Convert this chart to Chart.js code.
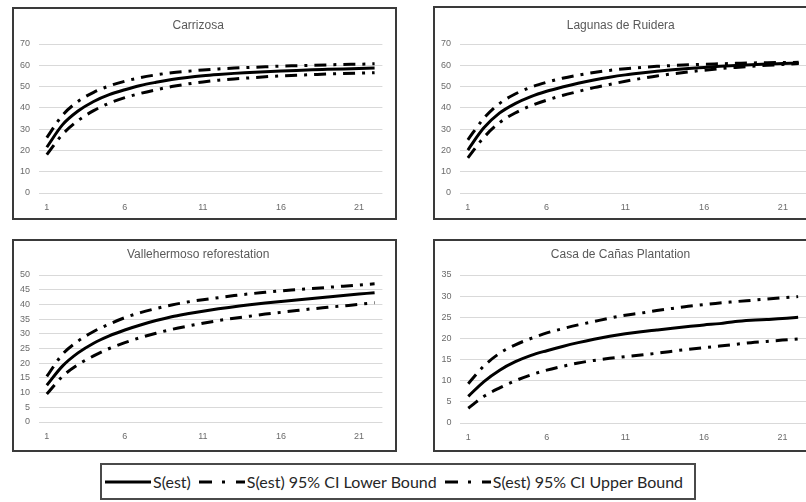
<!DOCTYPE html>
<html>
<head>
<meta charset="utf-8">
<script src="https://cdn.jsdelivr.net/npm/chart.js@4.4.1/dist/chart.umd.min.js"></script>
<style>
  html, body { margin: 0; padding: 0; background: #fff; }
  body { width: 806px; height: 502px; position: relative; overflow: hidden; }
  .panel { position: absolute; box-sizing: border-box; border: 2px solid #3a3a3a; background: #fff; }
  .panel canvas { display: block; }
  #legend {
    position: absolute; left: 100px; top: 463px; width: 596px; height: 37px;
    box-sizing: border-box; border: 2px solid #4a4a4a;
    display: flex; align-items: center; padding-left: 3px;
    font-family: Lato, "Noto Sans", sans-serif; font-size: 16px; color: #262626;
  }
  #legend .item { display: flex; align-items: center; margin-right: 8px; }
  #legend svg { margin-right: 2px; }
</style>
</head>
<body>
<div class="panel" id="p1" style="left:12px; top:7px; width:385px; height:213px;"><canvas id="c1" width="381" height="209"></canvas></div>
<div class="panel" id="p2" style="left:433px; top:6px; width:385px; height:214px;"><canvas id="c2" width="381" height="210"></canvas></div>
<div class="panel" id="p3" style="left:12px; top:239px; width:385px; height:213px;"><canvas id="c3" width="381" height="209"></canvas></div>
<div class="panel" id="p4" style="left:433px; top:239px; width:385px; height:213px;"><canvas id="c4" width="381" height="209"></canvas></div>

<div id="legend">
  <span class="item"><svg width="46" height="6"><line x1="0" y1="3" x2="46" y2="3" stroke="#000" stroke-width="3"/></svg><span>S(est)</span></span>
  <span class="item"><svg width="46" height="6"><line x1="0" y1="3" x2="46" y2="3" stroke="#000" stroke-width="3" stroke-dasharray="13 10 3 11"/></svg><span>S(est) 95% CI Lower Bound</span></span>
  <span class="item"><svg width="46" height="6"><line x1="0" y1="3" x2="46" y2="3" stroke="#000" stroke-width="3" stroke-dasharray="13 10 3 11"/></svg><span>S(est) 95% CI Upper Bound</span></span>
</div>

<script>
// muestras 1..22
const samples = ['1','2','3','4','5','6','7','8','9','10','11','12','13','14','15','16','17','18','19','20','21','22'];

// Carrizosa
const carrizosaS  = [21.5, 32, 38.5, 43, 46.2, 48.5, 50.5, 52, 53.3, 54.3, 55.1, 55.7, 56.2, 56.6, 57, 57.3, 57.6, 57.9, 58.1, 58.3, 58.5, 58.7];
const carrizosaLo = [18, 27.5, 34, 38.7, 42.2, 44.8, 46.8, 48.5, 50, 51.2, 52.2, 53, 53.6, 54.1, 54.6, 55, 55.3, 55.6, 55.9, 56.1, 56.3, 56.5];
const carrizosaUp = [26, 36.5, 43, 47.3, 50.3, 52.5, 54.2, 55.5, 56.5, 57.2, 57.8, 58.3, 58.7, 59, 59.3, 59.6, 59.8, 60, 60.2, 60.4, 60.5, 60.7];

// Lagunas de Ruidera
const lagunasS  = [20.2, 30.5, 37.5, 42, 45.3, 47.8, 49.8, 51.6, 53.1, 54.4, 55.5, 56.4, 57.2, 57.9, 58.5, 59, 59.5, 59.9, 60.3, 60.6, 60.8, 61];
const lagunasLo = [16.5, 26, 33, 37.6, 41, 43.6, 45.8, 47.7, 49.5, 51, 52.5, 53.8, 55, 56, 56.9, 57.7, 58.4, 59, 59.5, 60, 60.4, 60.8];
const lagunasUp = [25, 35, 42, 46.5, 49.7, 52, 53.9, 55.4, 56.6, 57.6, 58.4, 59, 59.5, 59.9, 60.2, 60.5, 60.7, 60.9, 61.1, 61.2, 61.3, 61.4];

// Vallehermoso reforestation
const valleS  = [12.5, 19, 23.5, 26.8, 29.3, 31.3, 33, 34.5, 35.8, 36.8, 37.7, 38.5, 39.2, 39.9, 40.5, 41, 41.5, 42, 42.5, 43, 43.5, 44];
const valleLo = [9.5, 15.5, 19.5, 22.5, 25, 27, 28.7, 30.2, 31.5, 32.6, 33.6, 34.5, 35.3, 36, 36.7, 37.3, 37.9, 38.5, 39, 39.5, 40, 40.6];
const valleUp = [15.5, 23, 27.5, 30.8, 33.3, 35.5, 37.2, 38.6, 39.8, 40.8, 41.6, 42.3, 43, 43.6, 44.1, 44.6, 45, 45.4, 45.8, 46.2, 46.6, 47];

// Casa de Cañas Plantation
const casaS  = [6.3, 9.8, 12.5, 14.5, 16, 17.1, 18.1, 19, 19.8, 20.5, 21.1, 21.6, 22, 22.4, 22.8, 23.2, 23.5, 24, 24.3, 24.5, 24.7, 25];
const casaLo = [3.5, 6.3, 8.3, 10, 11.4, 12.5, 13.4, 14.2, 14.8, 15.3, 15.7, 16.1, 16.5, 17, 17.4, 17.8, 18.2, 18.6, 19, 19.3, 19.6, 19.9];
const casaUp = [9.3, 13.5, 16.5, 18.5, 20, 21.3, 22.3, 23.2, 24, 24.8, 25.5, 26, 26.6, 27.1, 27.6, 28, 28.4, 28.7, 29, 29.3, 29.6, 29.9];

const ciDash = [12, 7, 3, 7];
const tickFont = { family: '"Liberation Sans", Arial, sans-serif', size: 9 };
const tickColor = '#6b6b6b';

function makeChart(id, title, s, lo, up, yMax, yStep, lay) {
    const ctx = document.getElementById(id).getContext('2d');
    return new Chart(ctx, {
        type: 'line',
        data: {
            labels: samples,
            datasets: [
                { label: 'S(est) 95% CI Lower Bound', data: lo, borderColor: '#000', borderWidth: 3, borderDash: ciDash, pointRadius: 0, cubicInterpolationMode: 'monotone', fill: false },
                { label: 'S(est) 95% CI Upper Bound', data: up, borderColor: '#000', borderWidth: 3, borderDash: ciDash, pointRadius: 0, cubicInterpolationMode: 'monotone', fill: false },
                { label: 'S(est)', data: s, borderColor: '#000', borderWidth: 3, pointRadius: 0, cubicInterpolationMode: 'monotone', fill: false }
            ]
        },
        options: {
            responsive: false,
            animation: false,
            layout: { padding: { left: 0, right: lay.right, top: 0, bottom: 0 } },
            plugins: {
                legend: { display: false },
                tooltip: { enabled: false },
                title: {
                    display: true, text: title, color: '#595959',
                    font: { family: '"Liberation Sans", Arial, sans-serif', size: 12, weight: 'normal', lineHeight: 1.2 },
                    padding: { top: lay.titleTop, bottom: lay.top - lay.titleTop - 14.4 }
                }
            },
            scales: {
                x: {
                    offset: true,
                    grid: { display: false, drawTicks: false },
                    border: { display: false },
                    ticks: {
                        autoSkip: false, maxRotation: 0, padding: 9, color: tickColor, font: tickFont,
                        callback: function(v, i) { return i % 5 === 0 ? this.getLabelForValue(v) : null; }
                    },
                    afterFit: (sc) => { sc.height = lay.bottom; }
                },
                y: {
                    min: 0, max: yMax,
                    grid: { color: '#d9d9d9', lineWidth: 1, drawTicks: false },
                    border: { display: false },
                    ticks: { stepSize: yStep, padding: 9, color: tickColor, font: tickFont },
                    afterFit: (sc) => { sc.width = lay.left; }
                }
            }
        }
    });
}

makeChart('c1', 'Carrizosa', carrizosaS, carrizosaLo, carrizosaUp, 70, 10, { left: 25, right: 12.6, top: 35, titleTop: 9, bottom: 25 });
makeChart('c2', 'Lagunas de Ruidera', lagunasS, lagunasLo, lagunasUp, 70, 10, { left: 25, right: 9.5, top: 36, titleTop: 10, bottom: 25 });
makeChart('c3', 'Vallehermoso reforestation', valleS, valleLo, valleUp, 50, 5, { left: 25, right: 12.6, top: 34, titleTop: 6, bottom: 28 });
makeChart('c4', 'Casa de Cañas Plantation', casaS, casaLo, casaUp, 35, 5, { left: 25.4, right: 10, top: 34, titleTop: 6, bottom: 27 });
</script>
</body>
</html>
